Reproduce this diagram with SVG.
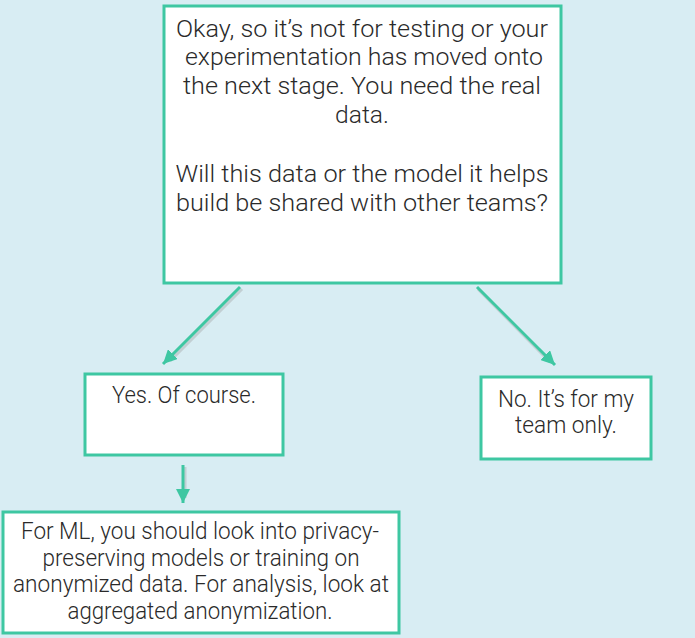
<svg xmlns="http://www.w3.org/2000/svg" width="695" height="638" viewBox="0 0 695 638">
  <style>
    .box { fill: #ffffff; stroke: #3ec7a2; stroke-width: 3; }
    .t { font-family: Roboto, "Liberation Sans", sans-serif; font-weight: 300; font-size: 24px; fill: #2a2a2a; text-anchor: middle; }
    .conn { stroke: #3ec7a2; stroke-width: 3; fill: none; marker-end: url(#ah); }
    .shadow { stroke: #b9c2c4; stroke-width: 3; fill: none; opacity: 0.7; }
  </style>
  <defs>
    <marker id="ah" markerUnits="userSpaceOnUse" markerWidth="16" markerHeight="14" refX="14" refY="7" orient="auto">
      <path d="M0,0 L14,7 L0,14 Z" fill="#3ec7a2"/>
    </marker>
  </defs>
  <rect x="0" y="0" width="695" height="638" fill="#d8edf3"/>

  <g id="connectors">
    <line class="shadow" x1="242" y1="289" x2="170" y2="361"/>
    <line class="shadow" x1="185" y1="467" x2="185" y2="498"/>
    <line class="shadow" x1="478" y1="289" x2="550" y2="362"/>
    <line class="conn" x1="240" y1="287" x2="163" y2="364"/>
    <line class="conn" x1="477" y1="287" x2="555" y2="365"/>
    <line class="conn" x1="183" y1="465" x2="183" y2="503"/>
  </g>

  <g id="node-question">
    <rect class="box" x="164" y="6" width="397" height="277"/>
    <text class="t" x="362" y="37" textLength="372" lengthAdjust="spacingAndGlyphs">Okay, so it’s not for testing or your</text>
    <text class="t" x="364" y="65" textLength="358" lengthAdjust="spacingAndGlyphs">experimentation has moved onto</text>
    <text class="t" x="362" y="94" textLength="358" lengthAdjust="spacingAndGlyphs">the next stage. You need the real</text>
    <text class="t" x="362" y="123" textLength="54" lengthAdjust="spacingAndGlyphs">data.</text>
    <text class="t" x="362" y="182" textLength="373" lengthAdjust="spacingAndGlyphs">Will this data or the model it helps</text>
    <text class="t" x="362" y="211" textLength="372" lengthAdjust="spacingAndGlyphs">build be shared with other teams?</text>
  </g>

  <g id="node-yes">
    <rect class="box" x="85" y="374" width="198" height="81"/>
    <text class="t" x="184" y="403" textLength="144" lengthAdjust="spacingAndGlyphs">Yes. Of course.</text>
  </g>

  <g id="node-no">
    <rect class="box" x="481" y="377" width="170" height="82"/>
    <text class="t" x="566" y="407" textLength="136" lengthAdjust="spacingAndGlyphs">No. It’s for my</text>
    <text class="t" x="566" y="433" textLength="102" lengthAdjust="spacingAndGlyphs">team only.</text>
  </g>

  <g id="node-ml">
    <rect class="box" x="3" y="512" width="396" height="121"/>
    <text class="t" x="200" y="539" textLength="358" lengthAdjust="spacingAndGlyphs">For ML, you should look into privacy-</text>
    <text class="t" x="201" y="566" textLength="317" lengthAdjust="spacingAndGlyphs">preserving models or training on</text>
    <text class="t" x="201" y="592" textLength="376" lengthAdjust="spacingAndGlyphs">anonymized data. For analysis, look at</text>
    <text class="t" x="200" y="619" textLength="265" lengthAdjust="spacingAndGlyphs">aggregated anonymization.</text>
  </g>
</svg>
